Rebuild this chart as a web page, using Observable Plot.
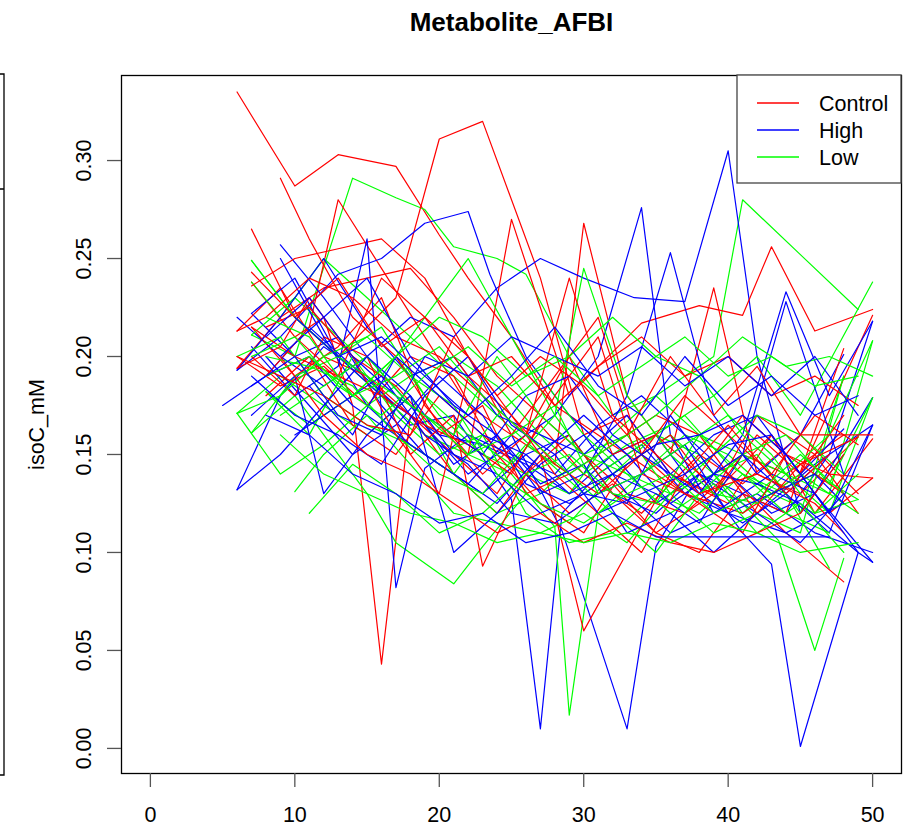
<!DOCTYPE html>
<html>
<head>
<meta charset="utf-8">
<script src="https://cdn.jsdelivr.net/npm/d3@7"></script>
<script src="https://cdn.jsdelivr.net/npm/@observablehq/plot@0.6"></script>
<style>
  html, body { margin: 0; padding: 0; background: #fff; }
  #chart svg { display: block; }
</style>
</head>
<body>
<div id="chart"></div>
<script>
const chartTitle = "Metabolite_AFBI";
const yTitle = "isoC_mM";
const groups = ["Control", "High", "Low"];
const groupColors = ["#ff0000", "#0000ff", "#00ff00"];
const xTicks = [0, 10, 20, 30, 40, 50];
const yTicks = [0, 0.05, 0.10, 0.15, 0.20, 0.25, 0.30];

// each series: [day, isoC_mM] pairs, one series per animal
const control = [
 [[6,0.335],[10,0.287],[13,0.303],[17,0.297],[20,0.262],[22,0.24],[25,0.21],[28,0.175],[31,0.16],[34,0.145],[37,0.13],[41,0.15],[44,0.14],[48,0.16]],
 [[7,0.265],[10,0.22],[13,0.2],[17,0.23],[20,0.311],[23,0.32],[27,0.24],[30,0.16],[33,0.17],[36,0.14],[39,0.13],[43,0.16],[47,0.12],[50,0.138]],
 [[7,0.238],[10,0.21],[12,0.22],[14,0.175],[16,0.043],[18,0.17],[21,0.15],[24,0.13],[27,0.165],[30,0.14],[34,0.12],[38,0.15],[41,0.135],[45,0.16],[49,0.13]],
 [[6,0.213],[9,0.235],[12,0.2],[15,0.19],[18,0.17],[21,0.14],[24,0.12],[27,0.15],[30,0.06],[33,0.1],[36,0.14],[40,0.125],[43,0.16],[46,0.12],[50,0.158]],
 [[8,0.19],[11,0.215],[13,0.28],[16,0.245],[19,0.21],[22,0.175],[25,0.16],[28,0.145],[30,0.268],[33,0.18],[36,0.15],[39,0.235],[42,0.14],[45,0.13],[49,0.159]],
 [[7,0.215],[10,0.19],[13,0.205],[16,0.23],[19,0.175],[22,0.15],[25,0.27],[29,0.18],[34,0.217],[38,0.226],[41,0.221],[43,0.256],[46,0.213],[50,0.224]],
 [[6,0.194],[9,0.22],[12,0.235],[15,0.24],[18,0.245],[21,0.22],[24,0.19],[27,0.17],[30,0.15],[33,0.13],[37,0.12],[40,0.14],[44,0.11],[48,0.085]],
 [[7,0.236],[10,0.25],[13,0.255],[16,0.26],[19,0.24],[22,0.2],[25,0.16],[28,0.19],[31,0.22],[34,0.15],[37,0.13],[41,0.12],[45,0.14],[50,0.221]],
 [[8,0.18],[11,0.2],[14,0.165],[17,0.15],[20,0.18],[23,0.16],[26,0.14],[29,0.12],[32,0.135],[35,0.11],[38,0.1],[41,0.13],[44,0.12],[48,0.204]],
 [[6,0.2],[9,0.185],[12,0.195],[15,0.175],[18,0.2],[21,0.19],[24,0.15],[27,0.125],[30,0.11],[33,0.145],[36,0.16],[39,0.13],[42,0.17],[46,0.15],[49,0.12]],
 [[7,0.2],[10,0.18],[12,0.21],[15,0.2],[18,0.15],[21,0.17],[23,0.093],[26,0.14],[29,0.16],[32,0.13],[35,0.11],[39,0.13],[42,0.16],[45,0.14],[48,0.17]],
 [[9,0.291],[11,0.26],[14,0.22],[17,0.2],[20,0.165],[23,0.14],[26,0.16],[29,0.2],[32,0.15],[35,0.16],[38,0.14],[41,0.17],[44,0.15],[48,0.13]],
 [[6,0.194],[9,0.205],[11,0.23],[14,0.2],[17,0.185],[20,0.16],[23,0.175],[26,0.13],[29,0.14],[32,0.155],[35,0.17],[38,0.16],[42,0.12],[45,0.145],[49,0.159]],
 [[8,0.215],[11,0.225],[14,0.2],[17,0.16],[20,0.13],[22,0.19],[25,0.17],[28,0.14],[31,0.12],[34,0.1],[37,0.14],[40,0.165],[44,0.13],[47,0.15]],
 [[7,0.215],[10,0.2],[13,0.19],[16,0.18],[19,0.165],[22,0.155],[25,0.14],[28,0.18],[31,0.21],[34,0.14],[37,0.13],[41,0.11],[44,0.15],[47,0.14],[50,0.138]],
 [[10,0.21],[13,0.19],[16,0.24],[19,0.22],[22,0.2],[25,0.17],[28,0.145],[31,0.13],[34,0.15],[37,0.18],[40,0.16],[43,0.14],[46,0.17],[49,0.155]],
 [[6,0.213],[8,0.22],[11,0.24],[14,0.23],[17,0.21],[20,0.2],[23,0.18],[26,0.16],[29,0.24],[32,0.17],[35,0.15],[38,0.13],[42,0.14],[46,0.125],[48,0.11]],
 [[7,0.243],[10,0.22],[13,0.24],[16,0.205],[19,0.22],[22,0.19],[25,0.2],[28,0.175],[31,0.195],[34,0.21],[37,0.19],[40,0.2],[43,0.18],[46,0.19],[49,0.175]],
 [[9,0.2],[12,0.17],[15,0.15],[18,0.14],[21,0.125],[24,0.11],[27,0.12],[30,0.105],[33,0.115],[36,0.105],[39,0.1],[42,0.11],[45,0.12],[48,0.15]],
 [[6,0.2],[9,0.19],[12,0.18],[15,0.165],[18,0.16],[21,0.21],[24,0.18],[27,0.2],[30,0.185],[33,0.16],[36,0.2],[39,0.17],[42,0.195],[45,0.16],[50,0.16]]
];

const high = [
 [[5,0.175],[8,0.19],[11,0.215],[14,0.195],[17,0.175],[20,0.16],[23,0.155],[26,0.145],[29,0.13],[32,0.15],[35,0.125],[38,0.14],[42,0.12],[46,0.145],[50,0.165]],
 [[6,0.132],[9,0.18],[12,0.205],[15,0.19],[18,0.165],[21,0.17],[25,0.127],[27,0.01],[28.5,0.12],[31,0.14],[34,0.155],[37,0.13],[40,0.12],[44,0.11],[48,0.125]],
 [[7,0.222],[10,0.2],[13,0.21],[16,0.175],[19,0.15],[22,0.135],[25,0.16],[28.5,0.111],[33,0.01],[35,0.103],[38,0.14],[41,0.13],[44,0.12],[47,0.15],[50,0.218]],
 [[8,0.19],[11,0.2],[14,0.175],[17,0.16],[20,0.145],[23,0.13],[26,0.15],[29,0.16],[32,0.13],[35,0.12],[38,0.14],[41,0.11],[43,0.094],[45,0.001],[49,0.1],[50,0.095]],
 [[6,0.22],[9,0.2],[12,0.185],[15,0.2],[18,0.22],[21,0.21],[24,0.235],[27,0.25],[30,0.24],[33.5,0.23],[37,0.228],[40,0.305],[42,0.2],[45,0.12],[48,0.15]],
 [[7,0.222],[10,0.24],[13,0.2],[16,0.18],[19,0.165],[22,0.14],[25,0.155],[28,0.17],[31,0.2],[34,0.276],[36,0.16],[39,0.12],[42,0.13],[46,0.11],[50,0.1]],
 [[9,0.257],[12,0.23],[15,0.2],[18,0.175],[21,0.145],[24,0.16],[27,0.13],[30,0.14],[33,0.18],[36,0.253],[39,0.17],[42,0.14],[45,0.16],[48,0.201]],
 [[6,0.193],[9,0.21],[13,0.242],[16,0.25],[19,0.268],[22,0.274],[23.5,0.242],[26,0.2],[29,0.17],[32,0.15],[35,0.16],[38,0.13],[41,0.115],[44,0.13],[47,0.15]],
 [[7,0.205],[10,0.18],[13,0.195],[15,0.26],[17,0.082],[19,0.143],[22,0.16],[25,0.15],[28,0.14],[31,0.165],[34,0.18],[37,0.16],[40,0.14],[43,0.12],[46,0.13],[50,0.179]],
 [[8,0.2],[11,0.175],[14,0.15],[17,0.165],[20,0.19],[23,0.17],[26,0.135],[29,0.125],[32,0.14],[35,0.13],[38,0.115],[41,0.15],[44,0.13],[47,0.11],[50,0.165]],
 [[6,0.193],[9,0.22],[12,0.25],[15,0.215],[18,0.19],[21,0.2],[24,0.17],[27,0.16],[30,0.15],[33,0.17],[36,0.14],[39,0.16],[42,0.17],[45,0.14],[48,0.163]],
 [[9,0.25],[12,0.21],[15,0.175],[18,0.155],[21,0.14],[24,0.125],[27,0.15],[30,0.17],[33,0.15],[36,0.125],[39,0.14],[42,0.135],[45,0.125],[49,0.1]],
 [[7,0.17],[10,0.19],[12,0.13],[15,0.16],[18,0.18],[21,0.1],[24,0.12],[27,0.145],[30,0.16],[33,0.13],[36,0.11],[39,0.12],[43,0.14],[46,0.13],[50,0.095]],
 [[10,0.16],[13,0.175],[16,0.19],[19,0.16],[22,0.145],[25,0.12],[28,0.115],[31,0.13],[34,0.14],[37,0.155],[40,0.12],[43,0.13],[46,0.14],[48,0.125]],
 [[8,0.21],[11,0.23],[14,0.2],[17,0.18],[20,0.165],[23,0.15],[26,0.18],[29,0.19],[32,0.16],[35,0.145],[38,0.13],[41,0.16],[44,0.233],[47,0.18],[50,0.218]],
 [[6,0.132],[9,0.15],[12,0.175],[15,0.2],[18,0.18],[21,0.15],[24,0.14],[27,0.12],[30,0.13],[33,0.125],[36,0.17],[39,0.14],[41,0.15],[44,0.228],[48,0.14]],
 [[7,0.19],[10,0.17],[13,0.16],[16,0.145],[19,0.18],[22,0.2],[25,0.165],[28,0.15],[31,0.12],[34,0.13],[37,0.14],[40,0.155],[43,0.16],[46,0.13],[49,0.1]],
 [[9,0.2],[12,0.22],[15,0.24],[18,0.2],[21,0.175],[24,0.16],[27,0.135],[30,0.145],[33,0.11],[36,0.12],[39,0.1],[42,0.12],[45,0.105],[48,0.13]],
 [[11,0.185],[14,0.16],[17,0.2],[20,0.18],[23,0.16],[26,0.15],[29,0.13],[32,0.14],[35,0.155],[38,0.16],[41,0.17],[44,0.15],[47,0.12],[50,0.165]],
 [[7,0.185],[10,0.2],[13,0.17],[16,0.16],[19,0.2],[22,0.19],[25,0.21],[28,0.2],[31,0.19],[34,0.205],[37,0.185],[40,0.2],[43,0.18],[46,0.2],[49,0.17]],
 [[8,0.17],[11,0.16],[14,0.14],[17,0.13],[20,0.115],[23,0.12],[26,0.105],[29,0.11],[32,0.12],[35,0.108],[38,0.108],[41,0.108],[44,0.108],[47,0.108]],
 [[10,0.22],[13,0.2],[16,0.21],[19,0.19],[22,0.17],[25,0.19],[28,0.215],[31,0.185],[34,0.17],[37,0.2],[40,0.175],[43,0.19],[46,0.17],[49,0.18]]
];

const low = [
 [[7,0.211],[10,0.2],[14,0.291],[17,0.281],[19,0.275],[21,0.256],[24,0.25],[26,0.242],[29,0.2],[32,0.17],[35,0.18],[38,0.16],[41,0.15],[44,0.14],[47,0.12],[50,0.179]],
 [[8,0.182],[11,0.165],[14,0.18],[17,0.2],[20,0.17],[23,0.15],[26,0.14],[29,0.13],[32,0.16],[35,0.18],[39,0.2],[41,0.28],[45,0.252],[49,0.224]],
 [[7,0.249],[10,0.22],[13,0.2],[16,0.18],[19,0.16],[22,0.15],[25,0.14],[28,0.113],[29,0.017],[31,0.12],[34,0.14],[37,0.16],[40,0.15],[43,0.13],[46,0.12],[49,0.127]],
 [[6,0.171],[9,0.19],[12,0.175],[15,0.16],[18,0.18],[21,0.14],[24,0.12],[27,0.13],[30,0.15],[33,0.16],[36,0.13],[39,0.14],[43.5,0.106],[46,0.05],[48,0.097]],
 [[7,0.161],[10,0.18],[13,0.15],[15,0.13],[17,0.105],[21,0.084],[23,0.103],[26,0.13],[29,0.115],[32,0.14],[35,0.16],[38,0.15],[41,0.12],[44,0.14],[47,0.13],[50,0.208]],
 [[7,0.238],[9,0.22],[12,0.25],[15,0.23],[18,0.21],[21,0.19],[24,0.17],[27,0.15],[30,0.13],[33,0.145],[36,0.16],[39,0.14],[42,0.15],[45,0.12],[48,0.19]],
 [[6,0.171],[9,0.14],[12,0.155],[15,0.175],[18,0.19],[21,0.2],[24,0.185],[27,0.16],[30,0.14],[33,0.155],[36,0.165],[39,0.18],[42,0.2],[45,0.17],[50,0.238]],
 [[8,0.182],[11,0.16],[14,0.2],[17,0.17],[20,0.15],[23,0.16],[26,0.12],[29,0.105],[32,0.11],[35,0.13],[38,0.12],[41,0.14],[44,0.13],[47,0.092]],
 [[7,0.211],[10,0.23],[13,0.21],[16,0.19],[19,0.22],[22,0.25],[25,0.21],[28,0.17],[31,0.14],[34,0.155],[37,0.17],[40,0.145],[43,0.13],[46,0.14],[49,0.127]],
 [[10,0.131],[12,0.15],[15,0.17],[18,0.145],[21,0.12],[24,0.115],[27,0.11],[30,0.12],[33,0.105],[36,0.13],[39,0.11],[42,0.12],[45,0.11],[48,0.19]],
 [[6,0.2],[9,0.21],[12,0.18],[15,0.165],[18,0.155],[21,0.14],[24,0.17],[27,0.19],[30,0.16],[33,0.14],[36,0.13],[39,0.15],[42,0.17],[45,0.16],[48,0.14]],
 [[7,0.161],[10,0.19],[13,0.2],[16,0.215],[19,0.18],[22,0.16],[25,0.145],[28,0.17],[30,0.245],[33,0.18],[36,0.15],[39,0.13],[42,0.125],[45,0.14],[49,0.12]],
 [[8,0.2],[11,0.195],[14,0.185],[17,0.16],[20,0.14],[23,0.13],[26,0.155],[29,0.14],[32,0.12],[35,0.1],[38,0.13],[41,0.15],[44,0.16],[47,0.135],[50,0.179]],
 [[11,0.12],[14,0.145],[17,0.13],[20,0.11],[23,0.12],[26,0.14],[29,0.15],[32,0.13],[35,0.125],[38,0.16],[41,0.14],[44,0.12],[47,0.11]],
 [[9,0.17],[12,0.185],[15,0.2],[18,0.175],[21,0.16],[24,0.2],[27,0.17],[30,0.15],[33,0.14],[36,0.12],[39,0.135],[42,0.11],[45,0.125],[48,0.1]],
 [[7,0.249],[10,0.22],[13,0.2],[16,0.185],[19,0.17],[22,0.15],[25,0.16],[28,0.175],[31,0.13],[34,0.14],[37,0.155],[40,0.17],[43,0.15],[46,0.12],[49,0.14]],
 [[6,0.171],[9,0.18],[12,0.2],[15,0.21],[18,0.19],[21,0.175],[24,0.14],[27,0.125],[30,0.115],[33,0.13],[36,0.14],[39,0.12],[42,0.13],[45,0.15],[48,0.13]],
 [[8,0.22],[11,0.21],[14,0.18],[17,0.19],[20,0.205],[23,0.18],[26,0.16],[29,0.14],[32,0.155],[35,0.17],[38,0.19],[41,0.16],[44,0.14],[47,0.16],[50,0.208]],
 [[8,0.19],[11,0.2],[14,0.18],[17,0.2],[20,0.22],[23,0.21],[26,0.19],[29,0.2],[32,0.22],[35,0.2],[38,0.19],[41,0.21],[44,0.195],[47,0.2],[50,0.19]],
 [[9,0.16],[12,0.14],[15,0.13],[18,0.12],[21,0.115],[24,0.105],[27,0.11],[30,0.105],[33,0.11],[36,0.105],[39,0.115],[42,0.11],[45,0.1],[49,0.105]],
 [[7,0.2],[10,0.21],[13,0.185],[16,0.17],[19,0.19],[22,0.205],[25,0.185],[28,0.2],[31,0.18],[34,0.195],[37,0.21],[40,0.19],[43,0.2],[46,0.185],[49,0.19]]
];

// build long table, interleaving groups so colours overlap as in the original
const seriesByGroup = [control, high, low];
const rows = [];
const maxN = d3.max(seriesByGroup, s => s.length);
for (let i = 0; i < maxN; i++) {
  seriesByGroup.forEach((list, g) => {
    const s = list[i];
    if (!s) return;
    s.forEach(([day, v]) => rows.push({group: groups[g], id: groups[g] + "-" + i, day, isoC: v}));
  });
}

const FONT = "'Liberation Sans', Arial, Helvetica, sans-serif";
const mL = 121, mT = 75, mR = 10, mB = 56, W = 911, H = 829;

const chart = Plot.plot({
  width: W,
  height: H,
  marginTop: mT,
  marginLeft: mL,
  marginRight: mR,
  marginBottom: mB,
  style: {fontFamily: FONT, background: "#fff", color: "#000", overflow: "visible"},
  x: {domain: [-2, 52], label: null},
  y: {domain: [-0.0128, 0.3434], label: null},
  color: {domain: groups, range: groupColors},
  marks: [
    Plot.line(rows, {x: "day", y: "isoC", z: "id", stroke: "group", strokeWidth: 1.2, curve: "linear"}),
    Plot.frame({stroke: "#000", strokeWidth: 1.3}),
    Plot.axisX({ticks: xTicks, tickSize: 14, tickFormat: () => "", label: null, stroke: "#555", strokeWidth: 1.3}),
    Plot.axisY({ticks: yTicks, tickSize: 14, tickFormat: () => "", label: null, stroke: "#555", strokeWidth: 1.3}),
    Plot.text(xTicks, {x: d => d, text: d => String(d), frameAnchor: "bottom", dy: 42, fontSize: 21.5, lineAnchor: "middle", fill: "#000"}),
    Plot.text(yTicks, {y: d => d, text: d => d3.format(".2f")(d), frameAnchor: "left", dx: -37, rotate: -90, fontSize: 21.5, textAnchor: "middle", lineAnchor: "middle", fill: "#000"}),
    Plot.text([yTitle], {frameAnchor: "left", dx: -84, rotate: -90, fontSize: 21.5, textAnchor: "middle", lineAnchor: "middle", fill: "#000"}),
    Plot.text([chartTitle], {frameAnchor: "top", dy: -53, fontSize: 26, fontWeight: "bold", textAnchor: "middle", lineAnchor: "middle", fill: "#000"})
  ]
});

document.getElementById("chart").appendChild(chart);

// legend (top-right, inside the plot box, like R's legend("topright"))
const svg = d3.select(chart);
const legW = 164, legH = 108;
const lx = W - mR - legW, ly = mT;
const leg = svg.append("g").attr("font-family", FONT).attr("text-anchor", "start");
leg.append("rect").attr("x", lx).attr("y", ly).attr("width", legW).attr("height", legH)
  .attr("fill", "#fff").attr("stroke", "#444").attr("stroke-width", 1.3);
groups.forEach((g, i) => {
  const yy = ly + 28 + i * 27;
  leg.append("line").attr("x1", lx + 20).attr("x2", lx + 62).attr("y1", yy).attr("y2", yy)
    .attr("stroke", groupColors[i]).attr("stroke-width", 1.3);
  leg.append("text").attr("x", lx + 82).attr("y", yy).attr("dy", "0.35em")
    .attr("text-anchor", "start").attr("font-size", 21.5).attr("fill", "#000").text(g);
});

// fragment of a neighbouring panel's border visible at the far left edge
svg.append("path").attr("d", `M0,74H4V775H0M0,189H4`).attr("fill", "none")
  .attr("stroke", "#000").attr("stroke-width", 1.3);
</script>
</body>
</html>
